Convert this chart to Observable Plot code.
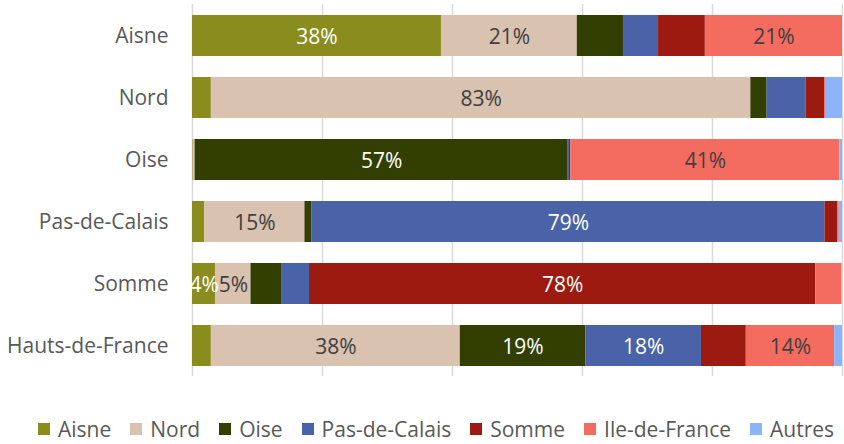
<!DOCTYPE html>
<html>
<head>
<meta charset="utf-8">
<script src="https://cdn.jsdelivr.net/npm/d3@7"></script>
<script src="https://cdn.jsdelivr.net/npm/@observablehq/plot@0.6"></script>
<style>
  body { margin: 0; background: #fff; font-family: "Open Sans", sans-serif; }
  #chart { width: 844px; }
  #chart svg { display: block; }
  .legend { display: flex; flex-wrap: nowrap; align-items: center; white-space: nowrap; padding-left: 38px; margin-top: 25px; height: 24px; font-size: 21px; color: #595959; line-height: 24px; }
  .legend .item { display: flex; align-items: center; margin-right: 19px; flex-shrink: 0; }
  .legend .item:last-child { margin-right: 0; }
  .legend .sw { width: 12px; height: 12px; margin-right: 8px; flex-shrink: 0; }
</style>
</head>
<body>
<div id="chart"></div>
<script>
const regions = ["Aisne", "Nord", "Oise", "Pas-de-Calais", "Somme", "Hauts-de-France"];
const series = ["Aisne", "Nord", "Oise", "Pas-de-Calais", "Somme", "Ile-de-France", "Autres"];
const colors = ["#8A8C1E", "#D9C2AF", "#333F00", "#4A62A8", "#9C1A0F", "#F46C60", "#8DB3FA"];
const labelColors = ["#ffffff", "#404040", "#ffffff", "#ffffff", "#ffffff", "#404040", "#404040"];

// share (%) of each series, one array per region, in series order
const valAisne = [38.3, 20.9, 7.1, 5.4, 7.2, 21.1, 0.0];
const valNord = [2.9, 83.0, 2.5, 6.0, 2.9, 0.2, 2.5];
const valOise = [0.1, 0.3, 57.4, 0.2, 0.2, 41.4, 0.4];
const valPdC = [1.9, 15.4, 1.1, 78.9, 2.0, 0.2, 0.5];
const valSomme = [3.6, 5.4, 4.8, 4.2, 77.9, 4.0, 0.1];
const valHdF = [2.9, 38.3, 19.3, 17.8, 6.9, 13.6, 1.2];
const values = [valAisne, valNord, valOise, valPdC, valSomme, valHdF];

// data labels shown on the chart (empty = no label)
const lblAisne = ["38%", "21%", "", "", "", "21%", ""];
const lblNord = ["", "83%", "", "", "", "", ""];
const lblOise = ["", "", "57%", "", "", "41%", ""];
const lblPdC = ["", "15%", "", "79%", "", "", ""];
const lblSomme = ["4%", "5%", "", "", "78%", "", ""];
const lblHdF = ["", "38%", "19%", "18%", "", "14%", ""];
const labels = [lblAisne, lblNord, lblOise, lblPdC, lblSomme, lblHdF];

const data = [];
regions.forEach((r, i) => series.forEach((s, j) => data.push({
  region: r, series: s, value: values[i][j], label: labels[i][j], lc: labelColors[j]
})));

const chart = Plot.plot({
  width: 844,
  height: 392,
  marginLeft: 192,
  marginRight: 2,
  marginTop: 4,
  marginBottom: 16,
  style: { fontFamily: "Open Sans, sans-serif", background: "#fff" },
  x: { domain: [0, 100], axis: null },
  y: { domain: regions, paddingInner: 0.34, paddingOuter: 0.17, label: null },
  color: { domain: series, range: colors },
  marks: [
    Plot.gridX([0, 20, 40, 60, 80, 100], { stroke: "#d9d9d9", strokeOpacity: 1, strokeWidth: 1.5 }),
    Plot.barX(data, Plot.stackX({ x: "value", y: "region", fill: "series", order: series })),
    Plot.text(data, Plot.stackX({ x: "value", y: "region", text: "label", fill: "lc", order: series, fontSize: 21, dy: 1 })),
    Plot.axisY({ tickSize: 0, tickPadding: 24, fontSize: 21, color: "#595959", label: null })
  ]
});
document.getElementById("chart").appendChild(chart);

const legend = document.createElement("div");
legend.className = "legend";
series.forEach((s, j) => {
  const it = document.createElement("div");
  it.className = "item";
  const sw = document.createElement("span");
  sw.className = "sw";
  sw.style.background = colors[j];
  const t = document.createElement("span");
  t.textContent = s;
  it.appendChild(sw); it.appendChild(t);
  legend.appendChild(it);
});
document.getElementById("chart").appendChild(legend);
</script>
</body>
</html>
